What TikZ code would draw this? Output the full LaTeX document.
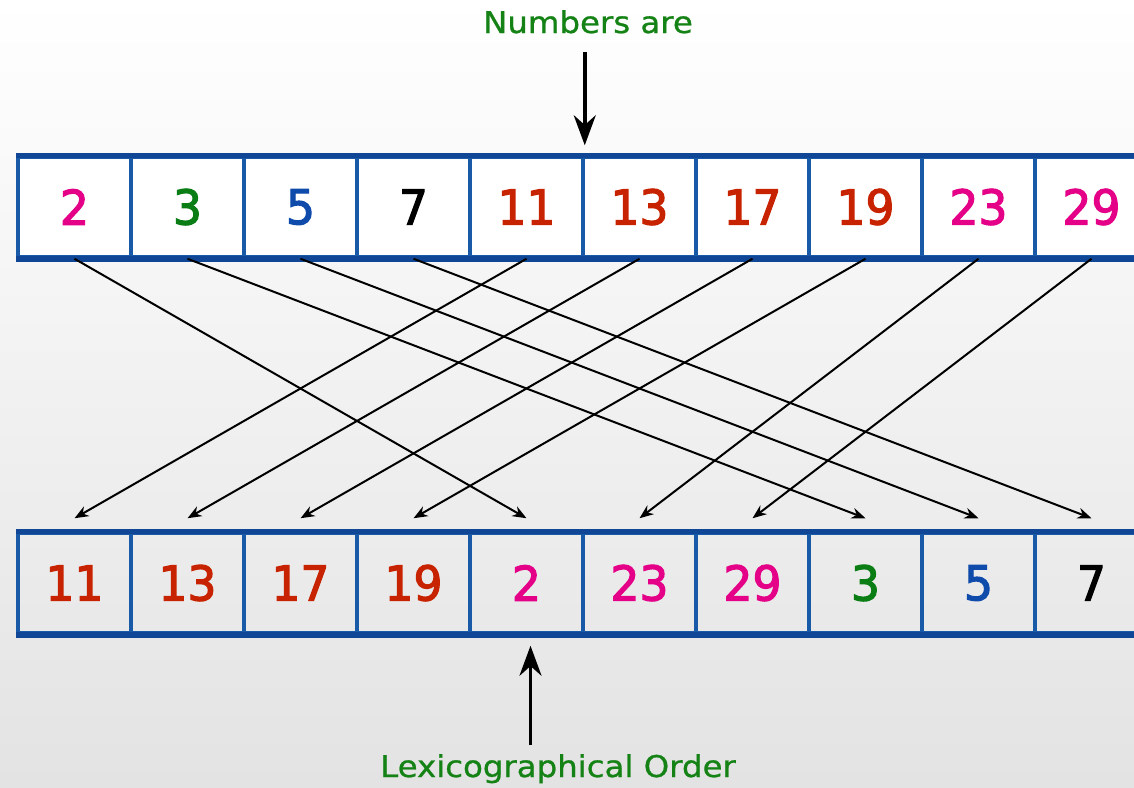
\documentclass[tikz,border=0pt]{standalone}
\usepackage{fontspec}
\setmainfont{DejaVu Sans}[FakeStretch=1.08, FakeBold=0.8]
\newfontfamily\digitfont{DejaVu Sans}[FakeStretch=0.95, FakeBold=2.5]
\usetikzlibrary{positioning, arrows.meta}

\definecolor{cellblue}{RGB}{25,90,168}
\definecolor{edgeblue}{RGB}{15,70,150}
\definecolor{numpink}{RGB}{228,0,135}
\definecolor{numgreen}{RGB}{10,125,20}
\definecolor{numblue}{RGB}{15,75,170}
\definecolor{numred}{RGB}{200,35,0}
\definecolor{textgreen}{RGB}{20,130,20}

\begin{document}
\begin{tikzpicture}[x=1pt, y=-1pt, >={Stealth[length=14pt,width=11pt]}, node distance=113pt]

  \tikzstyle{cell}=[draw=cellblue, line width=3.5pt, minimum width=113pt, minimum height=100pt, inner sep=0pt, font=\digitfont\fontsize{48}{54}\selectfont]
  \tikzstyle{rowedge}=[draw=edgeblue, line width=5.5pt]
  \tikzstyle{heading}=[text=textgreen, anchor=base, font=\fontsize{30}{34}\selectfont]
  \tikzstyle{bigarrow}=[-{Stealth[length=30pt,width=22pt]}, line width=3.5pt]

  \useasboundingbox (0,0) rectangle (1134,787);
  \clip (0,0) rectangle (1134,787);
  \shade[top color=white, bottom color=black!11] (0,0) rectangle (1134,787);

  % numbers as they are
  \node[cell, fill=white, text=numpink] (t1) at (74.5,207) {2};
  \node[cell, fill=white, text=numgreen] (t2) [right of=t1] {3};
  \node[cell, fill=white, text=numblue] (t3) [right of=t2] {5};
  \node[cell, fill=white, text=black] (t4) [right of=t3] {7};
  \node[cell, fill=white, text=numred] (t5) [right of=t4] {11};
  \node[cell, fill=white, text=numred] (t6) [right of=t5] {13};
  \node[cell, fill=white, text=numred] (t7) [right of=t6] {17};
  \node[cell, fill=white, text=numred] (t8) [right of=t7] {19};
  \node[cell, fill=white, text=numpink] (t9) [right of=t8] {23};
  \node[cell, fill=white, text=numpink] (t10) [right of=t9] {29};

  % lexicographical order
  \node[cell, text=numred] (b1) at (74.5,583) {11};
  \node[cell, text=numred] (b2) [right of=b1] {13};
  \node[cell, text=numred] (b3) [right of=b2] {17};
  \node[cell, text=numred] (b4) [right of=b3] {19};
  \node[cell, text=numpink] (b5) [right of=b4] {2};
  \node[cell, text=numpink] (b6) [right of=b5] {23};
  \node[cell, text=numpink] (b7) [right of=b6] {29};
  \node[cell, text=numgreen] (b8) [right of=b7] {3};
  \node[cell, text=numblue] (b9) [right of=b8] {5};
  \node[cell, text=black] (b10) [right of=b9] {7};

  \draw[rowedge] (t1.north west) -- (t10.north east);
  \draw[rowedge] (t1.south west) -- (t10.south east);
  \draw[rowedge] (b1.north west) -- (b10.north east);
  \draw[rowedge] (b1.south west) -- (b10.south east);

  \node[heading] (numlbl) at (588,33) {Numbers are};
  \node[heading] (lexlbl) at (558,777) {Lexicographical Order};
  \coordinate (lexfoot) at (530.5,745);

  \draw[bigarrow] ([yshift=-15pt]numlbl.south -| t5.north east) -- ([yshift=10pt]t5.north east);
  \draw[bigarrow] (lexfoot) -- ([xshift=4pt,yshift=-11pt]b5.south);

  \path[->, line width=2pt]
    (t1.south) edge ([yshift=13pt]b5.north)
    (t2.south) edge ([yshift=13pt]b8.north)
    (t3.south) edge ([yshift=13pt]b9.north)
    (t4.south) edge ([yshift=13pt]b10.north)
    (t5.south) edge ([yshift=13pt]b1.north)
    (t6.south) edge ([yshift=13pt]b2.north)
    (t7.south) edge ([yshift=13pt]b3.north)
    (t8.south) edge ([yshift=13pt]b4.north)
    (t9.south) edge ([yshift=13pt]b6.north)
    (t10.south) edge ([yshift=13pt]b7.north);

\end{tikzpicture}
\end{document}
